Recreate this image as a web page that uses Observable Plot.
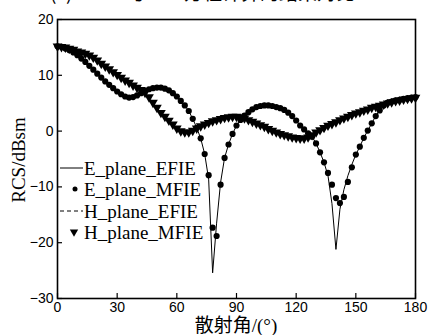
<!DOCTYPE html>
<html><head><meta charset="utf-8">
<script src="https://cdn.jsdelivr.net/npm/d3@7"></script>
<script src="https://cdn.jsdelivr.net/npm/@observablehq/plot@0.6"></script>
<style>
body{margin:0;background:#fff;}
#c{position:relative;width:435px;height:335px;overflow:hidden;}
</style>
</head><body><div id="c"></div>
<script>
const angles = [0,2,4,6,8,10,12,14,16,18,20,22,24,26,28,30,32,34,36,38,40,42,44,46,48,50,52,54,56,58,60,62,64,66,68,70,72,74,76,78,80,82,84,86,88,90,92,94,96,98,100,102,104,106,108,110,112,114,116,118,120,122,124,126,128,130,132,134,136,138,140,142,144,146,148,150,152,154,156,158,160,162,164,166,168,170,172,174,176,178,180];
const eMfie = [15.2,15.1,14.8,14.5,14.1,13.6,13.0,12.4,11.7,11.0,10.3,9.6,8.9,8.3,7.7,7.1,6.6,6.2,6.0,6.1,6.4,6.8,7.2,7.5,7.7,7.8,7.8,7.6,7.3,6.8,6.2,5.4,4.6,3.6,2.2,0.6,-1.3,-4.1,-7.9,-17.3,-18.8,-9.6,-4.8,-2.4,-0.5,1.0,2.0,2.8,3.4,3.9,4.3,4.5,4.6,4.6,4.5,4.3,4.1,3.8,3.3,2.7,1.9,1.0,0.3,-0.4,-1.0,-2.2,-3.8,-5.6,-7.5,-9.6,-12.0,-12.9,-11.8,-9.1,-6.5,-4.2,-2.8,-1.2,0.1,1.4,2.7,3.7,4.6,5.1,5.3,5.5,5.6,5.8,5.9,6.0,6.1];
const eEfie = [15.2,15.1,14.8,14.5,14.1,13.6,13.0,12.4,11.7,11.0,10.3,9.6,8.9,8.3,7.7,7.1,6.6,6.2,6.0,6.1,6.4,6.8,7.2,7.5,7.7,7.8,7.8,7.6,7.3,6.8,6.2,5.4,4.6,3.6,2.2,0.6,-1.3,-4.1,-8.6,-25.4,-16.5,-9.2,-4.8,-2.4,-0.5,1.0,2.0,2.8,3.4,3.9,4.3,4.5,4.6,4.6,4.5,4.3,4.1,3.8,3.3,2.7,1.9,1.0,0.3,-0.4,-1.0,-2.2,-3.8,-5.6,-8.0,-13.0,-21.2,-14.0,-10.5,-8.0,-6.0,-4.2,-2.8,-1.2,0.1,1.4,2.7,3.7,4.6,5.1,5.3,5.5,5.6,5.8,5.9,6.0,6.1];
const hMfie = [15.2,15.1,15.0,14.8,14.6,14.3,14.1,13.9,13.6,13.2,12.7,12.1,11.6,11.1,10.6,10.1,9.6,9.1,8.7,8.2,7.8,7.4,6.9,6.1,5.1,4.2,3.3,2.6,1.9,1.2,0.5,0.0,-0.2,-0.2,0.1,0.5,0.9,1.2,1.5,1.8,2.0,2.2,2.4,2.5,2.6,2.6,2.5,2.3,2.0,1.7,1.4,1.1,0.8,0.4,0.1,-0.2,-0.5,-0.7,-0.9,-1.1,-1.2,-1.3,-1.3,-1.1,-0.7,-0.2,0.2,0.6,1.0,1.3,1.6,2.0,2.3,2.6,2.9,3.2,3.4,3.7,3.9,4.2,4.4,4.6,4.8,5.0,5.2,5.4,5.5,5.7,5.8,5.9,6.0];
const hEfie = hMfie.slice();
const xTicks = [0,30,60,90,120,150,180];
const yTicks = [-30,-20,-10,0,10,20];
const legendLabels = ["E_plane_EFIE","E_plane_MFIE","H_plane_EFIE","H_plane_MFIE"];
const titleText = "(c) VEFIE与VSIE方程计算的结果对比";
const xLabel = "散射角/(°)";
const yLabel = "RCS/dBsm";

const rows = vals => angles.map((a, i) => ({a, v: vals[i]}));
const serif = "'Liberation Serif','Times New Roman',serif";
const sans = "'Liberation Sans',Arial,sans-serif";

const chart = Plot.plot({
  width: 435, height: 335,
  marginLeft: 57, marginRight: 20, marginTop: 19, marginBottom: 37,
  x: {domain: [0, 180]},
  y: {domain: [-30, 20]},
  style: {background: "white", color: "black"},
  marks: [
    Plot.axisX({ticks: xTicks, tickSize: -5, tickPadding: 9, label: null, fontSize: 14, fontFamily: sans, strokeWidth: 1.2}),
    Plot.axisY({ticks: yTicks, tickSize: -5, tickPadding: 9, label: null, fontSize: 14, fontFamily: sans, strokeWidth: 1.2}),
    Plot.line(rows(hEfie), {x: "a", y: "v", stroke: "black", strokeWidth: 1, strokeDasharray: "4,3", clip: true}),
    Plot.line(rows(eEfie), {x: "a", y: "v", stroke: "black", strokeWidth: 1, clip: true}),
    Plot.dot(rows(hMfie), {x: "a", y: "v", symbol: "triangle", r: 3.6, fill: "black", stroke: "none", rotate: 180}),
    Plot.dot(rows(eMfie), {x: "a", y: "v", r: 3.1, fill: "black", stroke: "none"}),
    Plot.frame({stroke: "black", strokeWidth: 1.6})
  ]
});
document.getElementById("c").appendChild(chart);

const svg = d3.select(chart);
// title (cut off at top, as in the reference)
svg.append("text").attr("x", 50).attr("y", 0).attr("text-anchor", "start").attr("font-family", "'Noto Sans CJK SC',sans-serif")
  .attr("font-size", 19).attr("fill", "black").text(titleText);
// axis labels
svg.append("text").attr("x", 236).attr("y", 332).attr("text-anchor", "middle")
  .attr("font-family", "'Liberation Serif','Noto Sans CJK SC',serif").attr("font-size", 19).attr("fill", "black").text(xLabel);
svg.append("text").attr("transform", "translate(25,160) rotate(-90)").attr("text-anchor", "middle")
  .attr("font-family", serif).attr("font-size", 19).attr("fill", "black").text(yLabel);
// legend
const lg = svg.append("g").attr("font-family", serif).attr("font-size", 19).attr("fill", "black").attr("text-anchor", "start");
const ys = [168, 189, 211, 232];
lg.append("line").attr("x1", 60).attr("x2", 83).attr("y1", ys[0]).attr("y2", ys[0]).attr("stroke", "black").attr("stroke-width", 1);
lg.append("circle").attr("cx", 75).attr("cy", ys[1]).attr("r", 2.5).attr("fill", "black");
lg.append("line").attr("x1", 60).attr("x2", 83).attr("y1", ys[2]).attr("y2", ys[2]).attr("stroke", "black").attr("stroke-width", 1).attr("stroke-dasharray", "4,3");
lg.append("path").attr("d", d3.symbol(d3.symbolTriangle, 30)()).attr("transform", `translate(74,${ys[3]}) rotate(180)`).attr("fill", "black");
legendLabels.forEach((t, i) => {
  lg.append("text").attr("x", 84).attr("y", ys[i]).attr("dy", "0.35em").attr("text-anchor", "start").text(t);
});
</script>
</body></html>
